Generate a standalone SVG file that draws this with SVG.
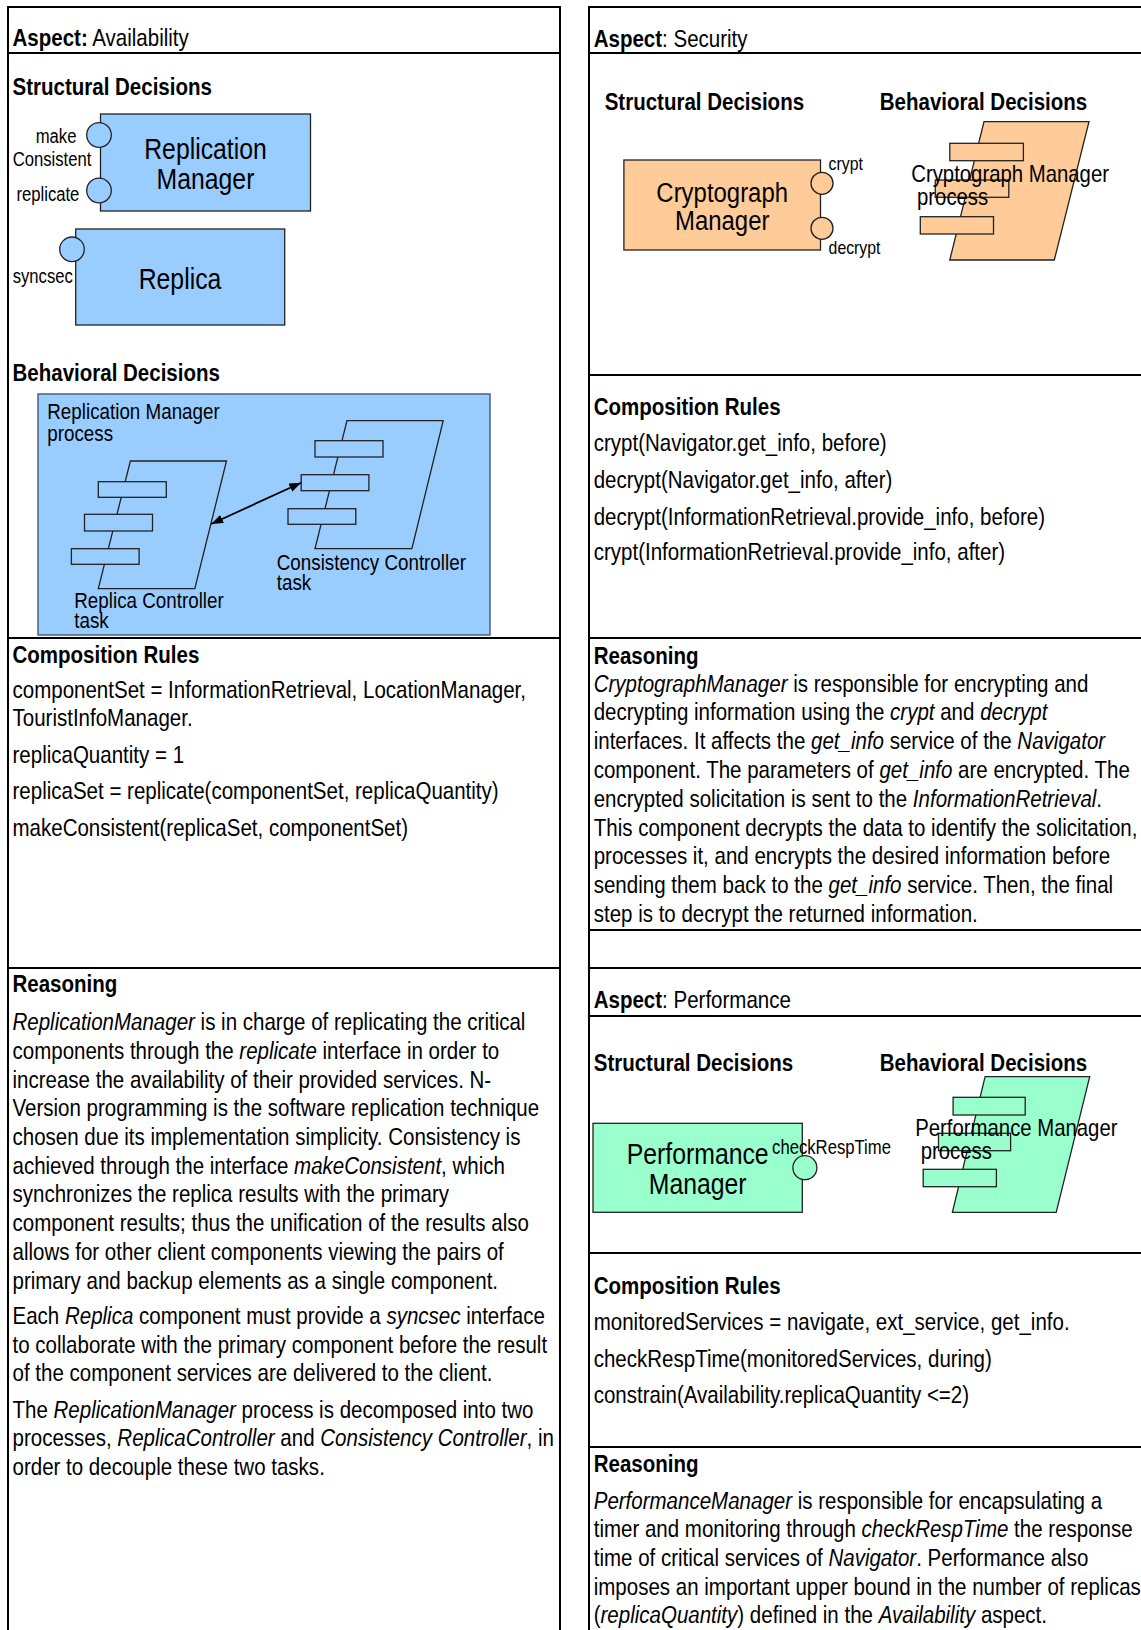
<svg xmlns="http://www.w3.org/2000/svg" width="1141" height="1630" viewBox="0 0 1141 1630">
  <style>
    text { font-family: "Liberation Sans", Arial, sans-serif; fill: #000; }
    .t { font-size: 24px; }
    .h { font-size: 24px; font-weight: bold; }
    .i { font-style: italic; }
    .bold { font-weight: bold; }
    .lbl { font-size: 19.5px; }
    .lbl-s { font-size: 18.5px; }
    .big { font-size: 29px; text-anchor: middle; }
    .big-c { font-size: 28px; text-anchor: middle; }
    .proc { font-size: 22px; }
    .proc-l { font-size: 23.8px; }
    .grid { stroke: #000; stroke-width: 2; fill: none; }
    .blue { fill: #99CCFF; stroke: #222; stroke-width: 1.3; }
    .peach { fill: #FFCC99; stroke: #222; stroke-width: 1.3; }
    .green { fill: #99FFCC; stroke: #222; stroke-width: 1.3; }
    .frame { fill: #99CCFF; stroke: #4a6280; stroke-width: 1.5; }
    .conn { stroke: #000; stroke-width: 1.8; fill: none; }
  </style>
  <defs>
    <marker id="ah" viewBox="0 0 12 9" refX="12" refY="4.5" markerWidth="12" markerHeight="9" markerUnits="userSpaceOnUse" orient="auto-start-reverse">
      <path d="M0,0 L12,4.5 L0,9 z" fill="#000"/>
    </marker>
  </defs>

  <rect width="1141" height="1630" fill="#fff"/>

  <!-- table rules -->
  <g id="tables">
    <path class="grid" d="M8,1640 V7 H560 V1640"/>
    <path class="grid" d="M8,53 H560 M8,638 H560 M8,968 H560"/>
    <path class="grid" d="M589,1640 V7 H1150"/>
    <path class="grid" d="M589,53 H1150 M589,375 H1150 M589,638 H1150 M589,930 H1150 M589,968 H1150 M589,1016 H1150 M589,1253 H1150 M589,1447 H1150"/>
  </g>

  <!-- ===== Availability aspect ===== -->
  <g id="availability-text" transform="matrix(0.855 0 0 1 12.5 0)">
    <text class="t" x="0" y="46.5"><tspan class="bold">Aspect:</tspan> Availability</text>
    <text class="h" x="0" y="95">Structural Decisions</text>
    <text class="h" x="0" y="381.5">Behavioral Decisions</text>
    <text class="h" x="0" y="663">Composition Rules</text>
    <text class="t" x="0" y="698">componentSet = InformationRetrieval, LocationManager,</text>
    <text class="t" x="0" y="726.5">TouristInfoManager.</text>
    <text class="t" x="0" y="763">replicaQuantity = 1</text>
    <text class="t" x="0" y="799.5">replicaSet = replicate(componentSet, replicaQuantity)</text>
    <text class="t" x="0" y="836">makeConsistent(replicaSet, componentSet)</text>
    <text class="h" x="0" y="992">Reasoning</text>
    <text class="t" x="0" y="1030.3"><tspan class="i">ReplicationManager</tspan> is in charge of replicating the critical</text>
    <text class="t" x="0" y="1059">components through the <tspan class="i">replicate</tspan> interface in order to</text>
    <text class="t" x="0" y="1087.7">increase the availability of their provided services. N-</text>
    <text class="t" x="0" y="1116.4">Version programming is the software replication technique</text>
    <text class="t" x="0" y="1145.1">chosen due its implementation simplicity. Consistency is</text>
    <text class="t" x="0" y="1173.8">achieved through the interface <tspan class="i">makeConsistent</tspan>, which</text>
    <text class="t" x="0" y="1202.5">synchronizes the replica results with the primary</text>
    <text class="t" x="0" y="1231.2">component results; thus the unification of the results also</text>
    <text class="t" x="0" y="1259.9">allows for other client components viewing the pairs of</text>
    <text class="t" x="0" y="1288.6">primary and backup elements as a single component.</text>
    <text class="t" x="0" y="1323.9">Each <tspan class="i">Replica</tspan> component must provide a <tspan class="i">syncsec</tspan> interface</text>
    <text class="t" x="0" y="1352.6">to collaborate with the primary component before the result</text>
    <text class="t" x="0" y="1381.3">of the component services are delivered to the client.</text>
    <text class="t" x="0" y="1417.7">The <tspan class="i">ReplicationManager</tspan> process is decomposed into two</text>
    <text class="t" x="0" y="1446.4">processes, <tspan class="i">ReplicaController</tspan> and <tspan class="i">Consistency Controller</tspan>, in</text>
    <text class="t" x="0" y="1475.1">order to decouple these two tasks.</text>
  </g>

  <g id="replication-manager">
    <rect class="blue" x="100.5" y="114" width="210" height="97"/>
    <circle class="blue" cx="99" cy="135" r="12.3"/>
    <circle class="blue" cx="99" cy="190.5" r="12.3"/>
    <text class="big" transform="matrix(0.855 0 0 1 205.5 158.5)">Replication</text>
    <text class="big" transform="matrix(0.855 0 0 1 205.5 189)">Manager</text>
    <text class="lbl" transform="matrix(0.855 0 0 1 35.7 143)">make</text>
    <text class="lbl" transform="matrix(0.855 0 0 1 12.7 165.5)">Consistent</text>
    <text class="lbl" transform="matrix(0.855 0 0 1 16.4 200.5)">replicate</text>
  </g>

  <g id="replica">
    <rect class="blue" x="75.7" y="229" width="209" height="96"/>
    <circle class="blue" cx="72" cy="249.3" r="12.3"/>
    <text class="big" transform="matrix(0.855 0 0 1 180 288.5)">Replica</text>
    <text class="lbl" transform="matrix(0.855 0 0 1 12.7 283)">syncsec</text>
  </g>

  <g id="replication-manager-process">
    <rect class="frame" x="38" y="394" width="452" height="241"/>
    <text class="proc" transform="matrix(0.855 0 0 1 47.3 419.3)">Replication Manager</text>
    <text class="proc" transform="matrix(0.855 0 0 1 47.3 441.3)">process</text>
  </g>

  <g id="replica-controller">
    <polygon class="blue" points="130.4,461 226.5,461 194.8,588.7 98.3,588.7"/>
    <rect class="blue" x="98.3" y="481.7" width="68" height="15.6"/>
    <rect class="blue" x="84.5" y="514.3" width="68" height="16.7"/>
    <rect class="blue" x="71.4" y="548.7" width="67.7" height="15.6"/>
    <text class="proc" transform="matrix(0.855 0 0 1 74.3 607.7)">Replica Controller</text>
    <text class="proc" transform="matrix(0.855 0 0 1 74.3 627.7)">task</text>
  </g>

  <g id="consistency-controller">
    <polygon class="blue" points="347,420.7 443.2,420.7 411.9,548.7 315,548.7"/>
    <rect class="blue" x="315" y="440.7" width="68" height="16.3"/>
    <rect class="blue" x="301.2" y="474.7" width="67.7" height="16"/>
    <rect class="blue" x="288" y="508.7" width="67.8" height="15.6"/>
    <text class="proc" transform="matrix(0.855 0 0 1 276.8 570)">Consistency Controller</text>
    <text class="proc" transform="matrix(0.855 0 0 1 276.8 590)">task</text>
  </g>

  <g id="connectors">
    <line class="conn" x1="211.2" y1="524" x2="301.2" y2="482.7" marker-start="url(#ah)" marker-end="url(#ah)"/>
  </g>

  <!-- ===== Security aspect ===== -->
  <g id="security-text" transform="matrix(0.855 0 0 1 593.7 0)">
    <text class="t" x="0" y="47"><tspan class="bold">Aspect</tspan>: Security</text>
    <text class="h" x="12.8" y="109.8">Structural Decisions</text>
    <text class="h" x="334.6" y="109.8">Behavioral Decisions</text>
    <text class="h" x="0" y="414.8">Composition Rules</text>
    <text class="t" x="0" y="451.5">crypt(Navigator.get_info, before)</text>
    <text class="t" x="0" y="488.2">decrypt(Navigator.get_info, after)</text>
    <text class="t" x="0" y="524.8">decrypt(InformationRetrieval.provide_info, before)</text>
    <text class="t" x="0" y="560.5">crypt(InformationRetrieval.provide_info, after)</text>
    <text class="h" x="0" y="664">Reasoning</text>
    <text class="t" x="0" y="691.7"><tspan class="i">CryptographManager</tspan> is responsible for encrypting and</text>
    <text class="t" x="0" y="720.5">decrypting information using the <tspan class="i">crypt</tspan> and <tspan class="i">decrypt</tspan></text>
    <text class="t" x="0" y="749.3">interfaces. It affects the <tspan class="i">get_info</tspan> service of the <tspan class="i">Navigator</tspan></text>
    <text class="t" x="0" y="778.1">component. The parameters of <tspan class="i">get_info</tspan> are encrypted. The</text>
    <text class="t" x="0" y="806.9">encrypted solicitation is sent to the <tspan class="i">InformationRetrieval</tspan>.</text>
    <text class="t" x="0" y="835.7">This component decrypts the data to identify the solicitation,</text>
    <text class="t" x="0" y="864.5">processes it, and encrypts the desired information before</text>
    <text class="t" x="0" y="893.3">sending them back to the <tspan class="i">get_info</tspan> service. Then, the final</text>
    <text class="t" x="0" y="922.1">step is to decrypt the returned information.</text>
  </g>

  <g id="cryptograph-manager">
    <rect class="peach" x="623.9" y="160" width="196.6" height="90"/>
    <circle class="peach" cx="822" cy="183.3" r="11"/>
    <circle class="peach" cx="822" cy="228.3" r="11"/>
    <text class="big-c" transform="matrix(0.855 0 0 1 722.2 201.5)">Cryptograph</text>
    <text class="big-c" transform="matrix(0.855 0 0 1 722.2 229.8)">Manager</text>
    <text class="lbl-s" transform="matrix(0.855 0 0 1 828.6 170.3)">crypt</text>
    <text class="lbl-s" transform="matrix(0.855 0 0 1 828.6 253.7)">decrypt</text>
  </g>

  <g id="cryptograph-manager-process">
    <polygon class="peach" points="984,121.7 1089,121.7 1054.3,260 949.8,260"/>
    <rect class="peach" x="949.8" y="143.3" width="73.6" height="17.4"/>
    <rect class="peach" x="935.3" y="180" width="73.5" height="17.3"/>
    <rect class="peach" x="920.3" y="216.7" width="73.2" height="17.3"/>
    <text class="proc-l" transform="matrix(0.855 0 0 1 911.2 182)">Cryptograph Manager</text>
    <text class="proc-l" transform="matrix(0.855 0 0 1 917 205)">process</text>
  </g>

  <!-- ===== Performance aspect ===== -->
  <g id="performance-text" transform="matrix(0.855 0 0 1 593.7 0)">
    <text class="t" x="0" y="1007.7"><tspan class="bold">Aspect</tspan>: Performance</text>
    <text class="h" x="0" y="1071.3">Structural Decisions</text>
    <text class="h" x="334.6" y="1071.3">Behavioral Decisions</text>
    <text class="h" x="0" y="1294.3">Composition Rules</text>
    <text class="t" x="0" y="1330.5">monitoredServices = navigate, ext_service, get_info.</text>
    <text class="t" x="0" y="1366.7">checkRespTime(monitoredServices, during)</text>
    <text class="t" x="0" y="1403.3">constrain(Availability.replicaQuantity &lt;=2)</text>
    <text class="h" x="0" y="1472.5">Reasoning</text>
    <text class="t" x="0" y="1508.7"><tspan class="i">PerformanceManager</tspan> is responsible for encapsulating a</text>
    <text class="t" x="0" y="1537.4">timer and monitoring through <tspan class="i">checkRespTime</tspan> the response</text>
    <text class="t" x="0" y="1566.1">time of critical services of <tspan class="i">Navigator</tspan>. Performance also</text>
    <text class="t" x="0" y="1594.8">imposes an important upper bound in the number of replicas</text>
    <text class="t" x="0" y="1623.5">(<tspan class="i">replicaQuantity</tspan>) defined in the <tspan class="i">Availability</tspan> aspect.</text>
  </g>

  <g id="performance-manager">
    <rect class="green" x="593" y="1123.3" width="209.3" height="89"/>
    <circle class="green" cx="804.9" cy="1167.7" r="12"/>
    <text class="big" transform="matrix(0.855 0 0 1 697.7 1163.7)">Performance</text>
    <text class="big" transform="matrix(0.855 0 0 1 697.7 1193.7)">Manager</text>
    <text class="lbl" transform="matrix(0.855 0 0 1 772.1 1153.7)">checkRespTime</text>
  </g>

  <g id="performance-manager-process">
    <polygon class="green" points="985.1,1076.7 1089.7,1076.7 1056.2,1212.3 952.4,1212.3"/>
    <rect class="green" x="953.1" y="1097.3" width="72.1" height="17.7"/>
    <rect class="green" x="938.5" y="1133.3" width="72.1" height="17.4"/>
    <rect class="green" x="923.2" y="1169.3" width="73.2" height="17.4"/>
    <text class="proc-l" transform="matrix(0.855 0 0 1 915.2 1136.3)">Performance Manager</text>
    <text class="proc-l" transform="matrix(0.855 0 0 1 920.7 1159.2)">process</text>
  </g>
</svg>
